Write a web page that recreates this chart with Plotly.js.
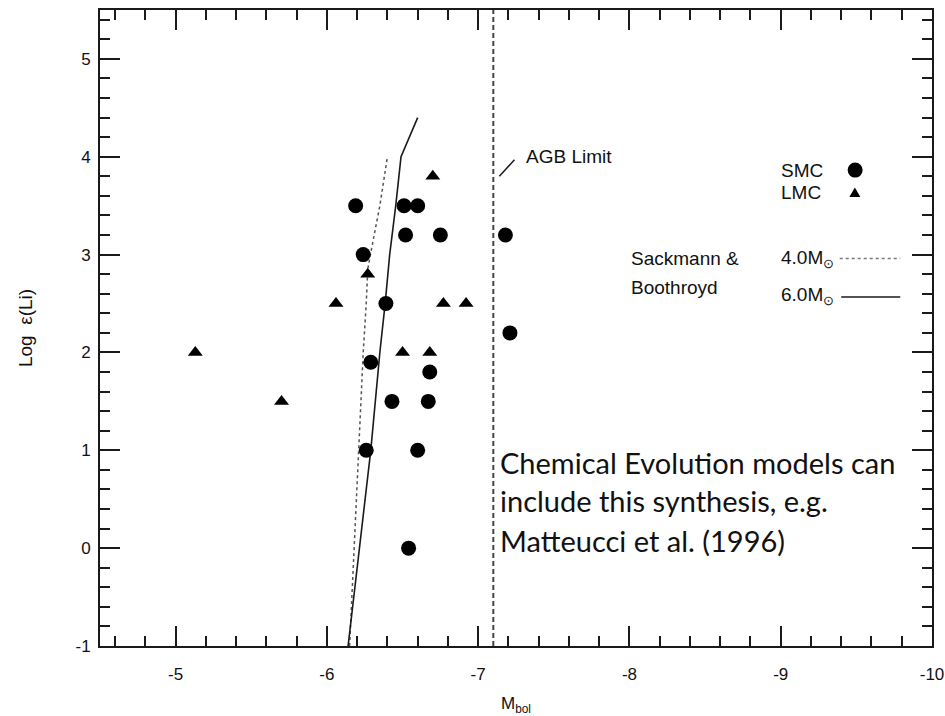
<!DOCTYPE html>
<html>
<head>
<meta charset="utf-8">
<script src="https://cdn.plot.ly/plotly-3.0.1.min.js"></script>
<style>html,body{margin:0;padding:0;background:#fff;}#chart{width:945px;height:716px;}</style>
</head>
<body>
<div id="chart"></div>
<script>
// SMC stars (circles)
var smcMbol = [-6.19, -6.51, -6.60, -6.52, -6.75, -6.24, -6.39, -7.18, -7.21, -6.29, -6.68, -6.43, -6.67, -6.26, -6.60, -6.54];
var smcLogLi = [3.5, 3.5, 3.5, 3.2, 3.2, 3.0, 2.5, 3.2, 2.2, 1.9, 1.8, 1.5, 1.5, 1.0, 1.0, 0.0];
// LMC stars (triangles)
var lmcMbol = [-6.70, -6.27, -6.06, -6.77, -6.92, -6.50, -6.68, -5.13, -5.70];
var lmcLogLi = [3.8, 2.8, 2.5, 2.5, 2.5, 2.0, 2.0, 2.0, 1.5];
// Sackmann & Boothroyd models
var m4Mbol = [-6.15, -6.18, -6.21, -6.24, -6.26, -6.27, -6.30, -6.35, -6.40];
var m4LogLi = [-1.0, 0.0, 1.0, 2.0, 2.5, 2.85, 3.1, 3.5, 4.0];
var m6Mbol = [-6.14, -6.215, -6.29, -6.35, -6.385, -6.415, -6.455, -6.49, -6.60];
var m6LogLi = [-1.0, 0.0, 1.0, 2.0, 2.5, 3.0, 3.5, 4.0, 4.4];
// AGB limit
var agbMbol = [-7.10, -7.10];
var agbLogLi = [-1.0, 5.5];
// ticks
var xTickVals = [-5, -6, -7, -8, -9, -10];
var xTickText = ['-5', '-6', '-7', '-8', '-9', '-10'];
var yTickVals = [-1, 0, 1, 2, 3, 4, 5];
var yTickText = ['-1', '0', '1', '2', '3', '4', '5'];

var ink = '#1a1a1a';
var traces = [
  {x: agbMbol, y: agbLogLi, mode: 'lines', line: {color: '#444', width: 2, dash: '5px,3px'}, hoverinfo: 'skip'},
  {x: m4Mbol, y: m4LogLi, mode: 'lines', line: {color: '#555', width: 1.5, dash: 'dot'}},
  {x: m6Mbol, y: m6LogLi, mode: 'lines', line: {color: ink, width: 1.6}},
  {x: smcMbol, y: smcLogLi, mode: 'markers', marker: {symbol: 'circle', size: 15, color: '#000'}},
  {x: lmcMbol, y: lmcLogLi, mode: 'markers', marker: {symbol: 'triangle-up', size: 13, color: '#000'}}
];

var helv = 'Liberation Sans, Arial, sans-serif';
var axisCommon = {
  showline: true, linecolor: ink, linewidth: 2, mirror: 'ticks',
  ticks: 'inside', ticklen: 20, tickwidth: 2, tickcolor: ink,
  showgrid: false, zeroline: false, tickmode: 'array',
  tickfont: {family: helv, size: 17, color: '#111'},
  minor: {tickmode: 'linear', tick0: 0, dtick: 0.2, ticks: 'inside', ticklen: 10, tickwidth: 2, tickcolor: ink, showgrid: false}
};

var xaxis = Object.assign({}, axisCommon, {
  range: [-4.5, -10], tickvals: xTickVals, ticktext: xTickText, ticklabelstandoff: 12,
  title: {text: 'M<sub>bol</sub>', font: {family: helv, size: 17, color: '#111'}, standoff: 14}
});
var yaxis = Object.assign({}, axisCommon, {
  range: [-1, 5.5], tickvals: yTickVals, ticktext: yTickText, ticklabelstandoff: 4,
  title: {text: 'Log  ε(Li)', font: {family: helv, size: 19, color: '#111'}, standoff: 38}
});

var lab = {family: helv, size: 19, color: '#111'};
var cal = {family: 'Lato, Carlito, sans-serif', size: 29, color: '#111'};
function ann(x, y, text, font) {
  return {x: x, y: y, xref: 'x', yref: 'y', text: text, showarrow: false, xanchor: 'left', yanchor: 'middle', font: font};
}
var annotations = [
  ann(-7.30, 4.00, 'AGB Limit', lab),
  ann(-8.99, 3.86, 'SMC', lab),
  ann(-8.99, 3.63, 'LMC', lab),
  ann(-8.00, 2.96, 'Sackmann &amp;', lab),
  ann(-8.00, 2.66, 'Boothroyd', lab),
  ann(-8.99, 2.96, '4.0M<sub>⊙</sub>', lab),
  ann(-8.99, 2.58, '6.0M<sub>⊙</sub>', lab),
  ann(-7.13, 0.88, 'Chemical Evolution models can', cal),
  ann(-7.13, 0.49, 'include this synthesis, e.g.', cal),
  ann(-7.13, 0.08, 'Matteucci et al. (1996)', cal)
];

var shapes = [
  {type: 'line', xref: 'x', yref: 'y', x0: -7.14, y0: 3.80, x1: -7.24, y1: 3.97, line: {color: ink, width: 1.5}},
  {type: 'line', xref: 'x', yref: 'y', x0: -9.39, y0: 2.96, x1: -9.79, y1: 2.96, line: {color: '#777', width: 1.5, dash: 'dot'}},
  {type: 'line', xref: 'x', yref: 'y', x0: -9.40, y0: 2.566, x1: -9.79, y1: 2.566, line: {color: ink, width: 1.5}},
  {type: 'circle', xref: 'x', yref: 'y', xsizemode: 'pixel', ysizemode: 'pixel', xanchor: -9.492, yanchor: 3.864, x0: -7.5, x1: 7.5, y0: -7.5, y1: 7.5, fillcolor: '#000', line: {width: 0}},
  {type: 'path', xref: 'x', yref: 'y', xsizemode: 'pixel', ysizemode: 'pixel', xanchor: -9.49, yanchor: 3.63, path: 'M -5.5 -4 L 5.5 -4 L 0 5.5 Z', fillcolor: '#000', line: {width: 0}}
];

var layout = {
  width: 945, height: 716,
  margin: {l: 100, r: 13, t: 10, b: 70},
  paper_bgcolor: '#fff', plot_bgcolor: '#fff',
  showlegend: false,
  xaxis: xaxis, yaxis: yaxis,
  annotations: annotations, shapes: shapes
};
Plotly.newPlot('chart', traces, layout, {displayModeBar: false, staticPlot: true});
</script>
</body>
</html>
